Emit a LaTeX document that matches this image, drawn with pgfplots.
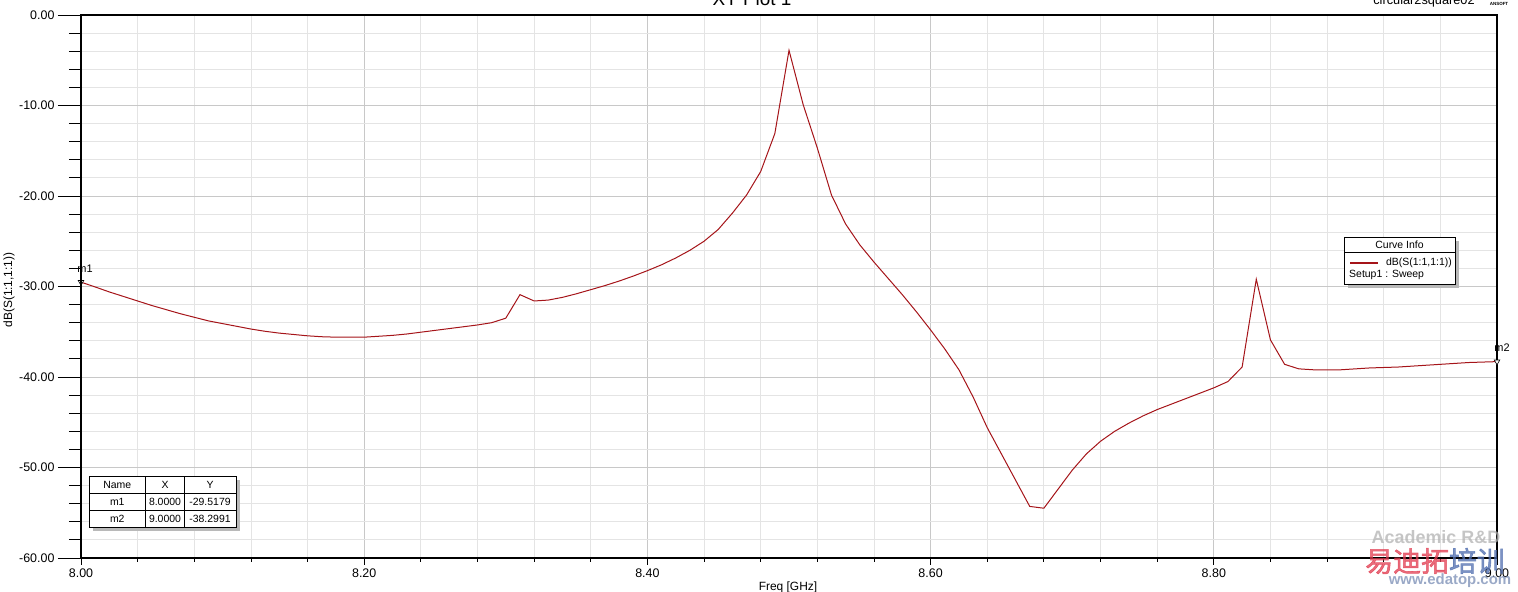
\documentclass[border=0pt]{standalone}
\usepackage{pgfplots}
\pgfplotsset{compat=1.18}
\usepackage{pgfplotstable}
\usepackage{fontspec}
\setmainfont{Liberation Sans}
\newfontfamily\cjk[AutoFakeBold=2]{Noto Sans CJK SC}
\definecolor{curve}{RGB}{165,20,25}
\definecolor{majgrid}{RGB}{200,200,200}
\definecolor{mingrid}{RGB}{228,228,228}

\pgfplotstableread{
x y
8.00 -29.52
8.01 -30.05
8.02 -30.6
8.03 -31.1
8.04 -31.6
8.05 -32.1
8.06 -32.55
8.07 -33.0
8.08 -33.4
8.09 -33.8
8.10 -34.1
8.11 -34.4
8.12 -34.7
8.13 -34.95
8.14 -35.15
8.15 -35.3
8.16 -35.45
8.17 -35.55
8.18 -35.6
8.19 -35.6
8.20 -35.6
8.21 -35.5
8.22 -35.4
8.23 -35.25
8.24 -35.05
8.25 -34.85
8.26 -34.65
8.27 -34.45
8.28 -34.25
8.29 -34.0
8.30 -33.5
8.31 -30.9
8.32 -31.6
8.33 -31.5
8.34 -31.2
8.35 -30.8
8.36 -30.35
8.37 -29.9
8.38 -29.4
8.39 -28.85
8.40 -28.25
8.41 -27.6
8.42 -26.85
8.43 -26.0
8.44 -25.0
8.45 -23.7
8.46 -21.9
8.47 -19.9
8.48 -17.3
8.49 -13.1
8.50 -3.9
8.51 -9.9
8.52 -14.7
8.53 -19.9
8.54 -23.1
8.55 -25.4
8.56 -27.3
8.57 -29.1
8.58 -30.9
8.59 -32.8
8.60 -34.8
8.61 -36.9
8.62 -39.2
8.63 -42.2
8.64 -45.6
8.65 -48.5
8.66 -51.4
8.67 -54.3
8.68 -54.5
8.69 -52.4
8.70 -50.3
8.71 -48.5
8.72 -47.1
8.73 -46.0
8.74 -45.1
8.75 -44.3
8.76 -43.6
8.77 -43.0
8.78 -42.4
8.79 -41.8
8.80 -41.2
8.81 -40.5
8.82 -38.9
8.83 -29.2
8.84 -35.9
8.85 -38.6
8.86 -39.1
8.87 -39.2
8.88 -39.2
8.89 -39.2
8.90 -39.1
8.91 -39.0
8.92 -38.95
8.93 -38.9
8.94 -38.8
8.95 -38.7
8.96 -38.6
8.97 -38.5
8.98 -38.4
8.99 -38.35
9.00 -38.30
}\sdata

\begin{document}
\begin{tikzpicture}
\useasboundingbox (-81bp,-34bp) rectangle (1437bp,558bp);
% main axis: grid, x ticks, curve
\begin{axis}[
  at={(0,0)}, anchor=south west,
  scale only axis, width=1416bp, height=543bp,
  xmin=8, xmax=9, ymin=-60, ymax=0,
  xtick={8,8.2,8.4,8.6,8.8,9}, minor x tick num=4,
  ytick={-60,-50,-40,-30,-20,-10,0}, minor y tick num=4,
  grid=both,
  major grid style={majgrid, line width=0.8bp},
  minor grid style={mingrid, line width=0.8bp},
  tick align=outside, xtick pos=left, ytick pos=left,
  major tick length=7bp, minor tick length=4bp,
  ytick style={draw=none}, yticklabels={},
  xtick style={black, line width=0.8bp},
  axis line style={black, line width=1.2bp},
  /pgf/number format/assume math mode=true,
  xticklabel style={font=\fontsize{12.5}{14}\selectfont, /pgf/number format/.cd, fixed, fixed zerofill, precision=2},
  clip=false,
]
\addplot[curve, line width=1bp] table[x=x, y=y] {\sdata};
\addplot[only marks, mark=triangle*, mark size=3.2bp,
  mark options={fill=white, draw=black, line width=0.6bp, rotate=180}]
  coordinates {(8,-29.5179) (9,-38.2991)};
\node[font=\fontsize{11}{12}\selectfont, anchor=base] at (axis cs:8,-29.5179) [xshift=4bp, yshift=10bp] {m1};
\node[font=\fontsize{11}{12}\selectfont, anchor=base] at (axis cs:9,-38.2991) [xshift=5bp, yshift=10bp] {m2};
\end{axis}
% second axis: y ticks only
\begin{axis}[
  at={(0,0)}, anchor=south west,
  scale only axis, width=1416bp, height=543bp,
  xmin=8, xmax=9, ymin=-60, ymax=0,
  axis x line=none, axis y line*=left,
  ytick={-60,-50,-40,-30,-20,-10,0}, minor y tick num=4,
  tick align=outside,
  major tick length=23bp, minor tick length=12bp,
  ytick style={black, line width=0.8bp},
  axis line style={black, line width=1.2bp},
  /pgf/number format/assume math mode=true,
  yticklabel style={font=\fontsize{12.5}{14}\selectfont, anchor=east, /pgf/number format/.cd, fixed, fixed zerofill, precision=2},
]
\addplot[draw=none] coordinates {(8,-30)};
\end{axis}
% axis labels and titles
\node[font=\fontsize{12}{14}\selectfont, rotate=90] at (-72bp,268bp) {dB(S(1:1,1:1))};
\node[font=\fontsize{12}{14}\selectfont, anchor=base] at (707bp,-32bp) {Freq [GHz]};
\node[font=\fontsize{19}{22}\selectfont, anchor=base] at (671bp,552bp) {XY Plot 1};
\node[font=\fontsize{12.8}{14}\selectfont, anchor=base] at (1343bp,553bp) {circular2square02};
\node[font=\fontsize{4.5}{5}\selectfont\bfseries, anchor=base] at (1418bp,552bp) {ANSOFT};
% curve info legend
\fill[gray!55] (1267bp,270bp) rectangle (1378bp,317bp);
\draw[black, line width=0.8bp, fill=white] (1263bp,274bp) rectangle (1374bp,321bp);
\draw[black, line width=0.6bp] (1263bp,306bp) -- (1374bp,306bp);
\node[font=\fontsize{10.5}{12}\selectfont] at (1318.5bp,313.5bp) {Curve Info};
\draw[curve, line width=1.5bp] (1269bp,295bp) -- (1297bp,295bp);
\node[font=\fontsize{10.5}{12}\selectfont, anchor=east, inner sep=0pt] at (1371bp,295bp) {dB(S(1:1,1:1))};
\node[font=\fontsize{10.5}{12}\selectfont, anchor=west, inner sep=0pt] at (1268bp,283bp) {Setup1 : Sweep};
% marker table
\fill[gray!55] (12bp,27bp) rectangle (159bp,78bp);
\draw[black, line width=0.8bp, fill=white] (8bp,31bp) rectangle (155bp,82bp);
\draw[black, line width=0.6bp] (64.7bp,31bp) -- (64.7bp,82bp) (103bp,31bp) -- (103bp,82bp)
  (8bp,65bp) -- (155bp,65bp) (8bp,48bp) -- (155bp,48bp);
\begin{scope}[every node/.style={font=\fontsize{10.5}{12}\selectfont}]
\node at (36.3bp,73.5bp) {Name}; \node at (84bp,73.5bp) {X}; \node at (129bp,73.5bp) {Y};
\node at (36.3bp,56.5bp) {m1}; \node at (84bp,56.5bp) {8.0000}; \node at (129bp,56.5bp) {-29.5179};
\node at (36.3bp,39.5bp) {m2}; \node at (84bp,39.5bp) {9.0000}; \node at (129bp,39.5bp) {-38.2991};
\end{scope}
% watermark
\begin{scope}[opacity=0.75]
\node[font=\fontsize{18}{20}\selectfont\bfseries, text=gray!60] at (1355bp,21bp) {Academic R\&D};
\node[font=\cjk\bfseries\fontsize{28}{30}\selectfont, inner sep=0pt] at (1354bp,-3bp) {\textcolor[RGB]{225,60,80}{易迪拓}\textcolor[RGB]{80,110,175}{培训}};
\node[font=\fontsize{15}{17}\selectfont\bfseries, text={rgb,255:red,120;green,140;blue,180}] at (1369bp,-23bp) {www.edatop.com};
\end{scope}
\end{tikzpicture}
\end{document}
